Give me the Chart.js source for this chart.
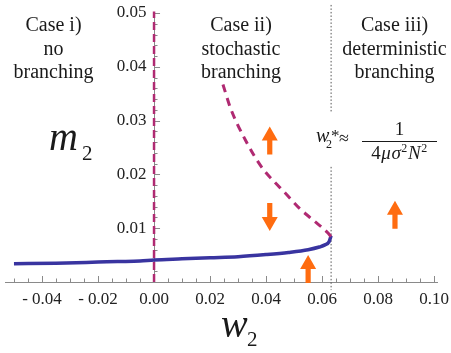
<!DOCTYPE html>
<html>
<head>
<meta charset="utf-8">
<script src="https://cdn.jsdelivr.net/npm/chart.js@4.4.1/dist/chart.umd.min.js"></script>
<style>
  html, body { margin: 0; padding: 0; background: #fff; }
  #wrap { width: 451px; height: 353px; }
</style>
</head>
<body>
<div id="wrap"><canvas id="chart" width="451" height="353"></canvas></div>
<script>
// stable branch (solid blue)
const lowerW = [-0.05, -0.035, -0.02, -0.013, -0.005, 0, 0.01, 0.02, 0.03, 0.04, 0.048, 0.055, 0.059, 0.061, 0.0625, 0.0632];
const lowerM = [0.0034, 0.0035, 0.0037, 0.0038, 0.0039, 0.0041, 0.0043, 0.0045, 0.0047, 0.0051, 0.0055, 0.0060, 0.0065, 0.0069, 0.0075, 0.0086];

// unstable branch (dashed)
const upperW = [0.0246, 0.0273, 0.0296, 0.0326, 0.0356, 0.0392, 0.0428, 0.0469, 0.0521, 0.0568, 0.0621, 0.0632];
const upperM = [0.0367, 0.0323, 0.0295, 0.0264, 0.0236, 0.0208, 0.0187, 0.0165, 0.0136, 0.0115, 0.0091, 0.0084];

// dashed line along w2 = 0
const zeroW = [0, 0];
const zeroM = [0, 0.0503];

// threshold w2* (dotted), broken where the formula sits
const threshW = [0.0632, 0.0632, 0.0632, 0.0632, 0.0632];
const threshM = [0.0515, 0.0314, null, 0.0214, -0.0015];

// orange arrows
const arrowW = [0.0413, 0.0413, 0.055, 0.086];
const arrowM = [0.0263, 0.0121, 0.0024, 0.0125];
const arrowDir = ['up', 'down', 'up', 'up'];

const xTicks = [-0.04, -0.02, 0, 0.02, 0.04, 0.06, 0.08, 0.10];
const xTickLabels = ['- 0.04', '- 0.02', '0.00', '0.02', '0.04', '0.06', '0.08', '0.10'];
const yTicks = [0.01, 0.02, 0.03, 0.04, 0.05];
const yTickLabels = ['0.01', '0.02', '0.03', '0.04', '0.05'];

const blue = '#3934a0';
const magenta = '#b02a72';
const orange = '#ff6c10';
const axisGray = '#8a8a8a';
const serif = '"Liberation Serif", "DejaVu Serif", serif';

function pts(xs, ys) {
  return xs.map((x, i) => ({ x: x, y: ys[i] }));
}

// inward tick marks (major + minor), drawn under the curves
const tickMarks = {
  id: 'tickMarks',
  beforeDatasetsDraw(chart) {
    const { ctx, scales: { x, y } } = chart;
    const x0 = x.getPixelForValue(0);
    const y0 = y.getPixelForValue(0);
    ctx.save();
    ctx.strokeStyle = axisGray;
    ctx.lineWidth = 1;
    ctx.beginPath();
    for (let k = -10; k <= 20; k++) {
      const px = Math.round(x.getPixelForValue(k * 0.005)) + 0.5;
      const len = k % 4 === 0 ? 6 : 3.5;
      ctx.moveTo(px, y0);
      ctx.lineTo(px, y0 - len);
    }
    for (let k = 1; k <= 25; k++) {
      const py = Math.round(y.getPixelForValue(k * 0.002)) + 0.5;
      const len = k % 5 === 0 ? 6 : 3.5;
      ctx.moveTo(x0, py);
      ctx.lineTo(x0 + len, py);
    }
    ctx.stroke();
    ctx.restore();
  }
};

function drawArrow(ctx, cx, cy, dir) {
  const L = 28, head = 14, hw = 8, sw = 2.6;
  const s = dir === 'up' ? -1 : 1;
  const tip = cy + s * L / 2;
  const tail = cy - s * L / 2;
  const base = tip - s * head;
  ctx.beginPath();
  ctx.moveTo(cx, tip);
  ctx.lineTo(cx + hw, base);
  ctx.lineTo(cx + sw, base);
  ctx.lineTo(cx + sw, tail);
  ctx.lineTo(cx - sw, tail);
  ctx.lineTo(cx - sw, base);
  ctx.lineTo(cx - hw, base);
  ctx.closePath();
  ctx.fill();
}

const annotations = {
  id: 'annotations',
  afterDatasetsDraw(chart) {
    const { ctx, scales: { x, y } } = chart;
    ctx.save();

    // arrows
    ctx.fillStyle = orange;
    arrowW.forEach((w, i) => {
      drawArrow(ctx, x.getPixelForValue(w), y.getPixelForValue(arrowM[i]), arrowDir[i]);
    });

    // case labels
    ctx.fillStyle = '#1a1a1a';
    ctx.textAlign = 'center';
    ctx.textBaseline = 'alphabetic';
    ctx.font = '20px ' + serif;
    const cases = [
      [53.5, ['Case i)', 'no', 'branching']],
      [241, ['Case ii)', 'stochastic', 'branching']],
      [394.5, ['Case iii)', 'deterministic', 'branching']]
    ];
    cases.forEach(([cx, lines]) => {
      lines.forEach((t, j) => ctx.fillText(t, cx, 31 + j * 23.7));
    });

    // axis titles
    ctx.textAlign = 'left';
    ctx.font = 'italic 40px ' + serif;
    ctx.fillText('m', 49, 150);
    ctx.font = '21px ' + serif;
    ctx.fillText('2', 82, 160);
    ctx.font = 'italic 40px ' + serif;
    ctx.fillText('w', 221, 337);
    ctx.font = '21px ' + serif;
    ctx.fillText('2', 247, 346);

    // threshold formula
    ctx.font = 'italic 20px ' + serif;
    ctx.fillText('w', 316, 142);
    ctx.font = '12px ' + serif;
    ctx.fillText('2', 326, 148);
    ctx.font = '17px ' + serif;
    ctx.fillText('*', 331, 141);
    ctx.font = '18px ' + serif;
    ctx.fillText('\u2248', 339, 144);

    const fx = 399.5;
    ctx.textAlign = 'center';
    ctx.font = '19px ' + serif;
    ctx.fillText('1', fx, 135);
    ctx.fillRect(362, 141, 75, 1);

    const den = [
      ['4', '19px ', 0],
      ['\u03bc', 'italic 19px ', 0],
      ['\u03c3', 'italic 19px ', 0],
      ['2', '12px ', -7],
      ['N', 'italic 19px ', 0],
      ['2', '12px ', -7]
    ];
    let total = 0;
    den.forEach(d => { ctx.font = d[1] + serif; d.w = ctx.measureText(d[0]).width + 0.6; total += d.w; });
    let dx = fx - total / 2;
    ctx.textAlign = 'left';
    den.forEach(d => {
      ctx.font = d[1] + serif;
      ctx.fillText(d[0], dx, 159 + d[2]);
      dx += d.w;
    });

    ctx.restore();
  }
};

new Chart(document.getElementById('chart'), {
  type: 'line',
  data: {
    datasets: [
      {
        label: 'w2 = 0',
        data: pts(zeroW, zeroM),
        borderColor: magenta,
        borderWidth: 2.5,
        borderDash: [8, 4],
        pointRadius: 0,
        clip: false,
        order: 0
      },
      {
        label: 'upper branch',
        data: pts(upperW, upperM),
        borderColor: magenta,
        borderWidth: 3,
        borderDash: [8, 6],
        pointRadius: 0,
        cubicInterpolationMode: 'monotone',
        order: 1
      },
      {
        label: 'lower branch',
        data: pts(lowerW, lowerM),
        borderColor: blue,
        borderWidth: 3.5,
        pointRadius: 0,
        cubicInterpolationMode: 'monotone',
        order: 2
      },
      {
        label: 'w2*',
        data: pts(threshW, threshM),
        borderColor: '#555',
        borderWidth: 1,
        borderDash: [1.5, 2],
        pointRadius: 0,
        spanGaps: false,
        clip: false,
        order: 3
      }
    ]
  },
  options: {
    responsive: false,
    animation: false,
    events: [],
    layout: { padding: { left: 5, right: 14, top: 13, bottom: 0 } },
    plugins: { legend: { display: false }, tooltip: { enabled: false } },
    scales: {
      x: {
        type: 'linear',
        position: 'bottom',
        min: -0.0532,
        max: 0.101,
        // invisible outward ticks only set the label gap
        grid: { display: true, drawOnChartArea: false, drawTicks: true, tickLength: 7, tickColor: 'rgba(0,0,0,0)' },
        border: { display: true, color: axisGray, width: 1 },
        ticks: {
          autoSkip: false,
          maxRotation: 0,
          padding: 0,
          color: '#222',
          font: { family: serif, size: 17 },
          callback: (v, i) => xTickLabels[i]
        },
        afterBuildTicks: s => { s.ticks = xTicks.map(v => ({ value: v })); },
        afterFit: s => { s.height = 71; }
      },
      y: {
        type: 'linear',
        position: { x: 0 },
        min: 0,
        max: 0.05,
        grid: { display: false, drawTicks: false, tickLength: 0 },
        border: { display: true, color: axisGray, width: 1 },
        ticks: {
          autoSkip: false,
          padding: 0,
          color: '#222',
          font: { family: serif, size: 17 },
          // trailing space keeps the labels clear of the axis line
          callback: (v, i) => yTickLabels[i] + ' \u2009'
        },
        afterBuildTicks: s => { s.ticks = yTicks.map(v => ({ value: v })); }
      }
    }
  },
  plugins: [tickMarks, annotations]
});
</script>
</body>
</html>
